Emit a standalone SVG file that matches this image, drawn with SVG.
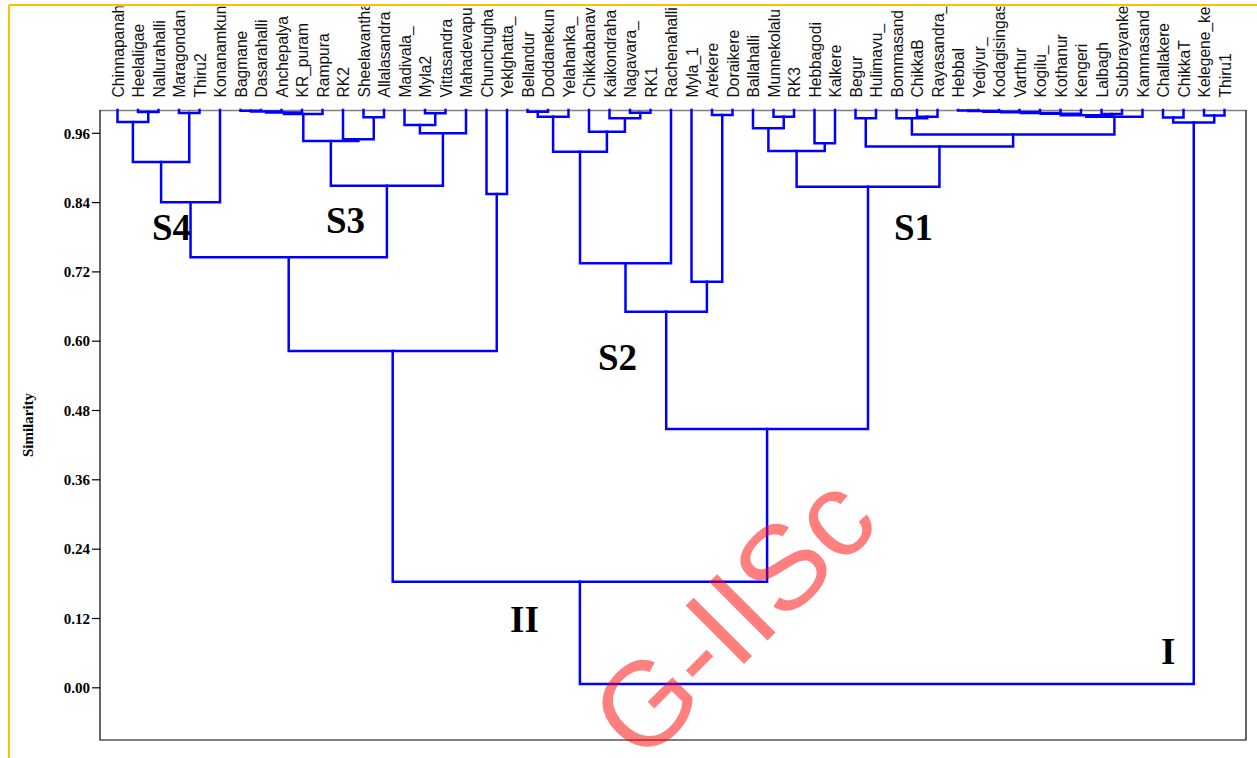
<svg xmlns="http://www.w3.org/2000/svg" width="1257" height="758" viewBox="0 0 1257 758">
<style>
.lbl{font-family:"Liberation Sans",Arial,sans-serif;font-size:15.6px;fill:#111}
.tick{font-family:"Liberation Serif","Times New Roman",serif;font-size:15px;font-weight:bold;fill:#000;text-anchor:end}
.grp{font-family:"Liberation Serif","Times New Roman",serif;font-size:37px;font-weight:bold;fill:#000}
.ax{font-family:"Liberation Serif","Times New Roman",serif;font-size:15px;font-weight:bold;fill:#000;text-anchor:middle}
.br{fill:none;stroke:#0000FF;stroke-width:2.5;stroke-linejoin:miter;stroke-linecap:square}
.wm{font-family:"Liberation Sans",Arial,sans-serif;font-size:120px;fill:#FF0000;fill-opacity:0.5}
</style>
<defs>
<clipPath id="lblclip"><rect x="100" y="6.5" width="1146" height="103"/></clipPath>
</defs>
<rect x="0" y="0" width="1257" height="758" fill="#FFFFFF"/>
<!-- frame -->
<g id="frame">
<line x1="9" y1="5" x2="1257" y2="5" stroke="#FFC000" stroke-width="2"/>
<line x1="9" y1="5" x2="9" y2="758" stroke="#FFC000" stroke-width="2"/>
<line x1="100" y1="110.5" x2="1246" y2="110.5" stroke="#808080" stroke-width="1.5"/>
<polyline points="100,110 100,740 1246,740 1246,110" fill="none" stroke="#000" stroke-width="1.2"/>
</g>
<!-- axis -->
<g id="axis">
<g stroke="#000" stroke-width="1.2">
<line x1="92" y1="133.3" x2="100" y2="133.3"/>
<line x1="92" y1="202.6" x2="100" y2="202.6"/>
<line x1="92" y1="271.9" x2="100" y2="271.9"/>
<line x1="92" y1="341.2" x2="100" y2="341.2"/>
<line x1="92" y1="410.5" x2="100" y2="410.5"/>
<line x1="92" y1="479.8" x2="100" y2="479.8"/>
<line x1="92" y1="549.2" x2="100" y2="549.2"/>
<line x1="92" y1="618.5" x2="100" y2="618.5"/>
<line x1="92" y1="687.8" x2="100" y2="687.8"/>
</g>
<text class="tick" x="90" y="138.5">0.96</text>
<text class="tick" x="90" y="207.8">0.84</text>
<text class="tick" x="90" y="277.1">0.72</text>
<text class="tick" x="90" y="346.4">0.60</text>
<text class="tick" x="90" y="415.7">0.48</text>
<text class="tick" x="90" y="485">0.36</text>
<text class="tick" x="90" y="554.4">0.24</text>
<text class="tick" x="90" y="623.7">0.12</text>
<text class="tick" x="90" y="693">0.00</text>
<text class="ax" transform="translate(33,425) rotate(-90)">Similarity</text>
</g>
<!-- leaves -->
<g id="leaves" clip-path="url(#lblclip)">
<g id="leaf-01"><text class="lbl" transform="translate(123.5,97.5) rotate(-90)">Chinnapanah</text></g>
<g id="leaf-02"><text class="lbl" transform="translate(144,97.5) rotate(-90)">Heelaligae</text></g>
<g id="leaf-03"><text class="lbl" transform="translate(164.5,97.5) rotate(-90)">Nallurahalli</text></g>
<g id="leaf-04"><text class="lbl" transform="translate(185,97.5) rotate(-90)">Maragondan</text></g>
<g id="leaf-05"><text class="lbl" transform="translate(205.5,97.5) rotate(-90)">Thiru2</text></g>
<g id="leaf-06"><text class="lbl" transform="translate(226,97.5) rotate(-90)">Konanamkun</text></g>
<g id="leaf-07"><text class="lbl" transform="translate(246.5,97.5) rotate(-90)">Bagmane</text></g>
<g id="leaf-08"><text class="lbl" transform="translate(267,97.5) rotate(-90)">Dasarahalli</text></g>
<g id="leaf-09"><text class="lbl" transform="translate(287.5,97.5) rotate(-90)">Anchepalya</text></g>
<g id="leaf-10"><text class="lbl" transform="translate(308,97.5) rotate(-90)">KR_puram</text></g>
<g id="leaf-11"><text class="lbl" transform="translate(328.5,97.5) rotate(-90)">Rampura</text></g>
<g id="leaf-12"><text class="lbl" transform="translate(349,97.5) rotate(-90)">RK2</text></g>
<g id="leaf-13"><text class="lbl" transform="translate(369.5,97.5) rotate(-90)">Sheelavantha</text></g>
<g id="leaf-14"><text class="lbl" transform="translate(390,97.5) rotate(-90)">Allalasandra</text></g>
<g id="leaf-15"><text class="lbl" transform="translate(410.5,97.5) rotate(-90)">Madivala_</text></g>
<g id="leaf-16"><text class="lbl" transform="translate(431,97.5) rotate(-90)">Myla2</text></g>
<g id="leaf-17"><text class="lbl" transform="translate(451.5,97.5) rotate(-90)">Vittasandra</text></g>
<g id="leaf-18"><text class="lbl" transform="translate(472,97.5) rotate(-90)">Mahadevapu</text></g>
<g id="leaf-19"><text class="lbl" transform="translate(492.5,97.5) rotate(-90)">Chunchugha</text></g>
<g id="leaf-20"><text class="lbl" transform="translate(513,97.5) rotate(-90)">Yeklghatta_</text></g>
<g id="leaf-21"><text class="lbl" transform="translate(533.5,97.5) rotate(-90)">Bellandur</text></g>
<g id="leaf-22"><text class="lbl" transform="translate(554,97.5) rotate(-90)">Doddanekun</text></g>
<g id="leaf-23"><text class="lbl" transform="translate(574.5,97.5) rotate(-90)">Yelahanka_</text></g>
<g id="leaf-24"><text class="lbl" transform="translate(595,97.5) rotate(-90)">Chikkabanav</text></g>
<g id="leaf-25"><text class="lbl" transform="translate(615.5,97.5) rotate(-90)">Kaikondraha</text></g>
<g id="leaf-26"><text class="lbl" transform="translate(636,97.5) rotate(-90)">Nagavara_</text></g>
<g id="leaf-27"><text class="lbl" transform="translate(656.5,97.5) rotate(-90)">RK1</text></g>
<g id="leaf-28"><text class="lbl" transform="translate(677,97.5) rotate(-90)">Rachenahalli</text></g>
<g id="leaf-29"><text class="lbl" transform="translate(697.5,97.5) rotate(-90)">Myla_1</text></g>
<g id="leaf-30"><text class="lbl" transform="translate(718,97.5) rotate(-90)">Arekere</text></g>
<g id="leaf-31"><text class="lbl" transform="translate(738.5,97.5) rotate(-90)">Doraikere</text></g>
<g id="leaf-32"><text class="lbl" transform="translate(759,97.5) rotate(-90)">Ballahalli</text></g>
<g id="leaf-33"><text class="lbl" transform="translate(779.5,97.5) rotate(-90)">Munnekolalu</text></g>
<g id="leaf-34"><text class="lbl" transform="translate(800,97.5) rotate(-90)">RK3</text></g>
<g id="leaf-35"><text class="lbl" transform="translate(820.5,97.5) rotate(-90)">Hebbagodi</text></g>
<g id="leaf-36"><text class="lbl" transform="translate(841,97.5) rotate(-90)">Kalkere</text></g>
<g id="leaf-37"><text class="lbl" transform="translate(861.5,97.5) rotate(-90)">Begur</text></g>
<g id="leaf-38"><text class="lbl" transform="translate(882,97.5) rotate(-90)">Hulimavu_</text></g>
<g id="leaf-39"><text class="lbl" transform="translate(902.5,97.5) rotate(-90)">Bommasand</text></g>
<g id="leaf-40"><text class="lbl" transform="translate(923,97.5) rotate(-90)">ChikkaB</text></g>
<g id="leaf-41"><text class="lbl" transform="translate(943.5,97.5) rotate(-90)">Rayasandra_</text></g>
<g id="leaf-42"><text class="lbl" transform="translate(964,97.5) rotate(-90)">Hebbal</text></g>
<g id="leaf-43"><text class="lbl" transform="translate(984.5,97.5) rotate(-90)">Yediyur_</text></g>
<g id="leaf-44"><text class="lbl" transform="translate(1005,97.5) rotate(-90)">Kodagisingas</text></g>
<g id="leaf-45"><text class="lbl" transform="translate(1025.5,97.5) rotate(-90)">Varthur</text></g>
<g id="leaf-46"><text class="lbl" transform="translate(1046,97.5) rotate(-90)">Kogilu_</text></g>
<g id="leaf-47"><text class="lbl" transform="translate(1066.5,97.5) rotate(-90)">Kothanur</text></g>
<g id="leaf-48"><text class="lbl" transform="translate(1087,97.5) rotate(-90)">Kengeri</text></g>
<g id="leaf-49"><text class="lbl" transform="translate(1107.5,97.5) rotate(-90)">Lalbagh</text></g>
<g id="leaf-50"><text class="lbl" transform="translate(1128,97.5) rotate(-90)">Subbrayanke</text></g>
<g id="leaf-51"><text class="lbl" transform="translate(1148.5,97.5) rotate(-90)">Kammasand</text></g>
<g id="leaf-52"><text class="lbl" transform="translate(1169,97.5) rotate(-90)">Challakere</text></g>
<g id="leaf-53"><text class="lbl" transform="translate(1189.5,97.5) rotate(-90)">ChikkaT</text></g>
<g id="leaf-54"><text class="lbl" transform="translate(1210,97.5) rotate(-90)">Kelegene_ke</text></g>
<g id="leaf-55"><text class="lbl" transform="translate(1230.5,97.5) rotate(-90)">Thiru1</text></g>
</g>
<!-- connectors -->
<g id="connectors" class="br">
<path d="M138 110V112H158.5V110"/>
<path d="M117.5 110V122H148.25V112"/>
<path d="M179 110V113H199.5V110"/>
<path d="M132.9 122V162H189.25V113"/>
<path d="M161.1 162V202.3H220V110"/>
<path d="M240.5 110V110.8H261V110"/>
<path d="M250.75 110.8V111.5H281.5V110"/>
<path d="M266.1 111.5V112.5H302V110"/>
<path d="M284.05 112.5V114H322.5V110"/>
<path d="M363.5 110V117.3H384V110"/>
<path d="M343 110V139.3H373.75V117.3"/>
<path d="M303.3 114V141H358.4V139.3"/>
<path d="M425 110V113.3H445.5V110"/>
<path d="M404.5 110V125H435.25V113.3"/>
<path d="M419.9 125V133.3H466V110"/>
<path d="M330.85 141V185.7H442.9V133.3"/>
<path d="M190.55 202.3V257.3H386.9V185.7"/>
<path d="M486.5 110V194H507V110"/>
<path d="M288.7 257.3V351H496.75V194"/>
<path d="M527.5 110V111.7H548V110"/>
<path d="M537.75 111.7V116.7H568.5V110"/>
<path d="M630 110V112.7H650.5V110"/>
<path d="M609.5 110V118.3H640.25V112.7"/>
<path d="M589 110V131.7H624.9V118.3"/>
<path d="M553.1 116.7V151.7H606.9V131.7"/>
<path d="M580 151.7V263.3H671V110"/>
<path d="M712 110V115H732.5V110"/>
<path d="M691.5 110V281.7H722.25V115"/>
<path d="M625.5 263.3V311.7H706.9V281.7"/>
<path d="M773.5 110V116.7H794V110"/>
<path d="M753 110V128.3H783.75V116.7"/>
<path d="M814.5 110V143.3H835V110"/>
<path d="M768.4 128.3V151H824.75V143.3"/>
<path d="M855.5 110V118.3H876V110"/>
<path d="M917 110V116.7H937.5V110"/>
<path d="M896.5 110V118.3H927.25V116.7"/>
<path d="M958 110V110.5H978.5V110"/>
<path d="M968.25 110.5V111H999V110"/>
<path d="M983.6 111V111.7H1019.5V110"/>
<path d="M1001.55 111.7V112.3H1040V110"/>
<path d="M1020.8 112.3V113H1060.5V110"/>
<path d="M1040.65 113V113.7H1081V110"/>
<path d="M1101.5 110V114H1122V110"/>
<path d="M1060.8 113.7V115.3H1111.75V114"/>
<path d="M1086.3 115.3V116.7H1142.5V110"/>
<path d="M911.9 118.3V134.5H1114.4V116.7"/>
<path d="M865.75 118.3V146.5H1013.15V134.5"/>
<path d="M796.6 151V186.7H939.45V146.5"/>
<path d="M666.2 311.7V429H868V186.7"/>
<path d="M392.7 351V581.7H767.1V429"/>
<path d="M1163 110V117.5H1183.5V110"/>
<path d="M1204 110V115.5H1224.5V110"/>
<path d="M1173.25 117.5V122.5H1214.25V115.5"/>
<path d="M579.9 581.7V684H1193.75V122.5"/>
</g>
<!-- group labels -->
<g id="label-S4"><text class="grp" x="152" y="240">S4</text></g>
<g id="label-S3"><text class="grp" x="326" y="233">S3</text></g>
<g id="label-S2"><text class="grp" x="598" y="370">S2</text></g>
<g id="label-S1"><text class="grp" x="894" y="240">S1</text></g>
<g id="label-II"><text class="grp" x="510" y="632">II</text></g>
<g id="label-I"><text class="grp" x="1161" y="664">I</text></g>
<!-- watermark -->
<text class="wm" transform="translate(642,766) rotate(-45)">G-IISc</text>
</svg>
